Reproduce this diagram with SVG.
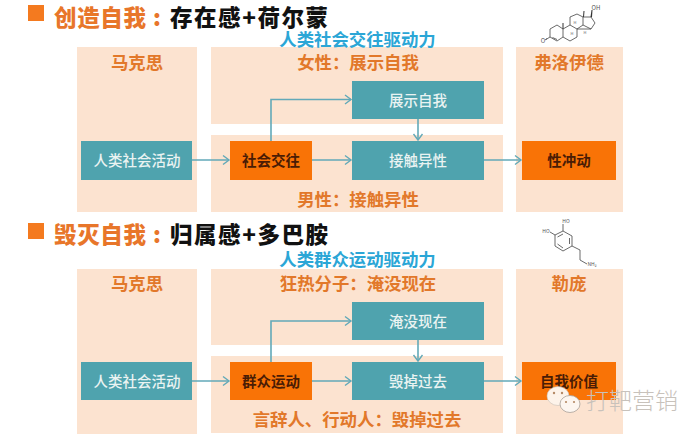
<svg xmlns="http://www.w3.org/2000/svg" width="700" height="436" viewBox="0 0 700 436">
<defs>
<marker id="a" markerUnits="userSpaceOnUse" markerWidth="10" markerHeight="12" refX="8" refY="6" orient="auto"><path d="M2 1.500L8 6L2 10.500" fill="none" stroke="#62a9b8" stroke-width="1.400"/></marker>
</defs>
<style>
text{font-family:"Noto Sans CJK SC","Noto Sans",sans-serif;text-anchor:middle}
.p{fill:#fce3d0}
.t{fill:#4fa3ae}
.o{fill:#f97306}
.tt{fill:#eaf3f2;font-size:14.500px;font-weight:500}
.ot{fill:#4a1c05;font-size:14.500px;font-weight:700}
.pl{fill:#e2782a;font-size:17.400px;font-weight:700}
.h1{fill:#e8762a;font-size:22.500px;font-weight:900;text-anchor:start}
.h2{fill:#111;font-size:22.500px;font-weight:900;text-anchor:start}
.sub{fill:#2ba6d6;font-size:17.400px;font-weight:700}
.c{fill:none;stroke:#62a9b8;stroke-width:1.600;marker-end:url(#a)}
.m{fill:none;stroke:#444;stroke-width:.8}
.mt{fill:#555;font-size:5px}
</style>
<rect width="700" height="436" fill="#fff"/>

<g id="heading-create">
<rect x="28" y="5" width="16" height="16" fill="#f47a1f"/>
<text class="h1" x="54" y="26.200" textLength="92">创造自我</text>
<text class="h1" x="153" y="26.200">:</text>
<text class="h2" x="170" y="26.200" textLength="158">存在感+荷尔蒙</text>
</g>
<g id="panel-marx-1"><rect class="p" x="77" y="47" width="120" height="165"/><text class="pl" x="137" y="69">马克思</text></g>
<g id="panel-female"><rect class="p" x="211" y="47" width="292" height="77"/><text class="pl" x="358" y="69">女性：展示自我</text></g>
<g id="panel-male"><rect class="p" x="211" y="135" width="292" height="77"/><text class="pl" x="358" y="206">男性：接触异性</text></g>
<g id="panel-freud"><rect class="p" x="516" y="47" width="107" height="165"/><text class="pl" x="569" y="69">弗洛伊德</text></g>
<g id="subtitle-1"><text class="sub" x="357.500" y="46">人类社会交往驱动力</text></g>
<g id="node-social-activity-1"><rect class="t" x="81" y="141" width="111" height="39"/><text class="tt" x="137" y="166">人类社会活动</text></g>
<g id="node-social-contact"><rect class="o" x="230" y="141" width="82" height="39"/><text class="ot" x="271" y="166">社会交往</text></g>
<g id="node-show-self"><rect class="t" x="352" y="81" width="132" height="38"/><text class="tt" x="418" y="106">展示自我</text></g>
<g id="node-opposite-sex"><rect class="t" x="352" y="141" width="132" height="39"/><text class="tt" x="418" y="166">接触异性</text></g>
<g id="node-sex-drive"><rect class="o" x="522" y="141" width="94" height="39"/><text class="ot" x="569" y="166">性冲动</text></g>
<g id="molecule-testosterone">
<path class="m" d="M550 37L557 41L563 37L563 29L557 25L550 29ZM552.500 37.500L557 39.500M550 37L546 39.500M545 40L547 38.500M563 37L570 41L577 37L577 29L570 25L563 29M577 29L583 25L583 17L577 14L570 17L570 25M583 17L591 17L595 23L591 29L583 25M591 29L577 29"/>
<path d="M562.500 29H563.500V23H562.500ZM583 17H584L584.500 11H583.500ZM590.500 17H592L592.500 10H591.500Z" fill="#333"/>
<text class="mt" x="543" y="43" style="font-size:6px">O</text><text class="mt" x="596" y="10" style="font-size:6px">OH</text><text class="mt" x="572" y="35" style="font-size:4px">H</text><text class="mt" x="585" y="34" style="font-size:4px">H</text><text class="mt" x="575" y="24" style="font-size:4px">H</text>
</g>

<g id="heading-destroy">
<rect x="28" y="223" width="16" height="16" fill="#f47a1f"/>
<text class="h1" x="54" y="243" textLength="92">毁灭自我</text>
<text class="h1" x="153" y="243">:</text>
<text class="h2" x="170" y="243" textLength="158">归属感+多巴胺</text>
</g>
<g id="panel-marx-2"><rect class="p" x="77" y="269" width="120" height="165"/><text class="pl" x="137" y="290">马克思</text></g>
<g id="panel-fanatic"><rect class="p" x="211" y="269" width="292" height="76"/><text class="pl" x="358" y="290">狂热分子：淹没现在</text></g>
<g id="panel-speaker"><rect class="p" x="211" y="356" width="292" height="77"/><text class="pl" x="357" y="426">言辞人、行动人：毁掉过去</text></g>
<g id="panel-lebon"><rect class="p" x="516" y="269" width="107" height="165"/><text class="pl" x="569" y="290">勒庞</text></g>
<g id="subtitle-2"><text class="sub" x="357.500" y="266">人类群众运动驱动力</text></g>
<g id="node-social-activity-2"><rect class="t" x="81" y="362" width="111" height="38"/><text class="tt" x="137" y="387">人类社会活动</text></g>
<g id="node-mass-movement"><rect class="o" x="230" y="362" width="82" height="38"/><text class="ot" x="271" y="387">群众运动</text></g>
<g id="node-drown-present"><rect class="t" x="352" y="302" width="132" height="38"/><text class="tt" x="418" y="327">淹没现在</text></g>
<g id="node-destroy-past"><rect class="t" x="352" y="362" width="132" height="38"/><text class="tt" x="418" y="387">毁掉过去</text></g>
<g id="node-self-worth"><rect class="o" x="522" y="362" width="94" height="38"/><text class="ot" x="569" y="387">自我价值</text></g>
<g id="molecule-dopamine">
<path class="m" d="M555 235L563 231L572 236L572 246L563 251L555 246ZM557.500 237L563 234M569.500 238L569.500 244M557.500 244L563 248M563 231L563 224M555 235L550 232M572 246L580 250L580 260L587 264"/>
<text class="mt" x="546" y="233">HO</text><text class="mt" x="566" y="223">HO</text><text class="mt" x="592" y="266">NH₂</text>
</g>

<g id="connectors">
<path class="c" d="M192 160H229"/>
<path class="c" d="M271 141V99.500H351"/>
<path class="c" d="M312 160H351"/>
<path class="c" d="M418 119V140"/>
<path class="c" d="M484 160H521"/>
<path class="c" d="M192 381H229"/>
<path class="c" d="M271 362V321H351"/>
<path class="c" d="M312 381H351"/>
<path class="c" d="M418 340V361"/>
<path class="c" d="M484 381H521"/>
</g>

<g id="watermark">
<ellipse cx="558" cy="396" rx="11" ry="9.500" fill="#fdf3ea" stroke="#c9c0b6" stroke-width=".6"/>
<ellipse cx="570" cy="404" rx="10" ry="8.500" fill="#fdf6f0" stroke="#a9a29a" stroke-width=".8"/>
<circle cx="554" cy="393" r="1.200" fill="#b58a66"/><circle cx="562" cy="393" r="1.200" fill="#b58a66"/><circle cx="566" cy="402" r="1.100" fill="#b58a66"/><circle cx="574" cy="402" r="1.100" fill="#b58a66"/>
<text x="632" y="409" style="font-size:23px;fill:#c8c2bb;font-weight:300">打靶营销</text>
</g>
</svg>
